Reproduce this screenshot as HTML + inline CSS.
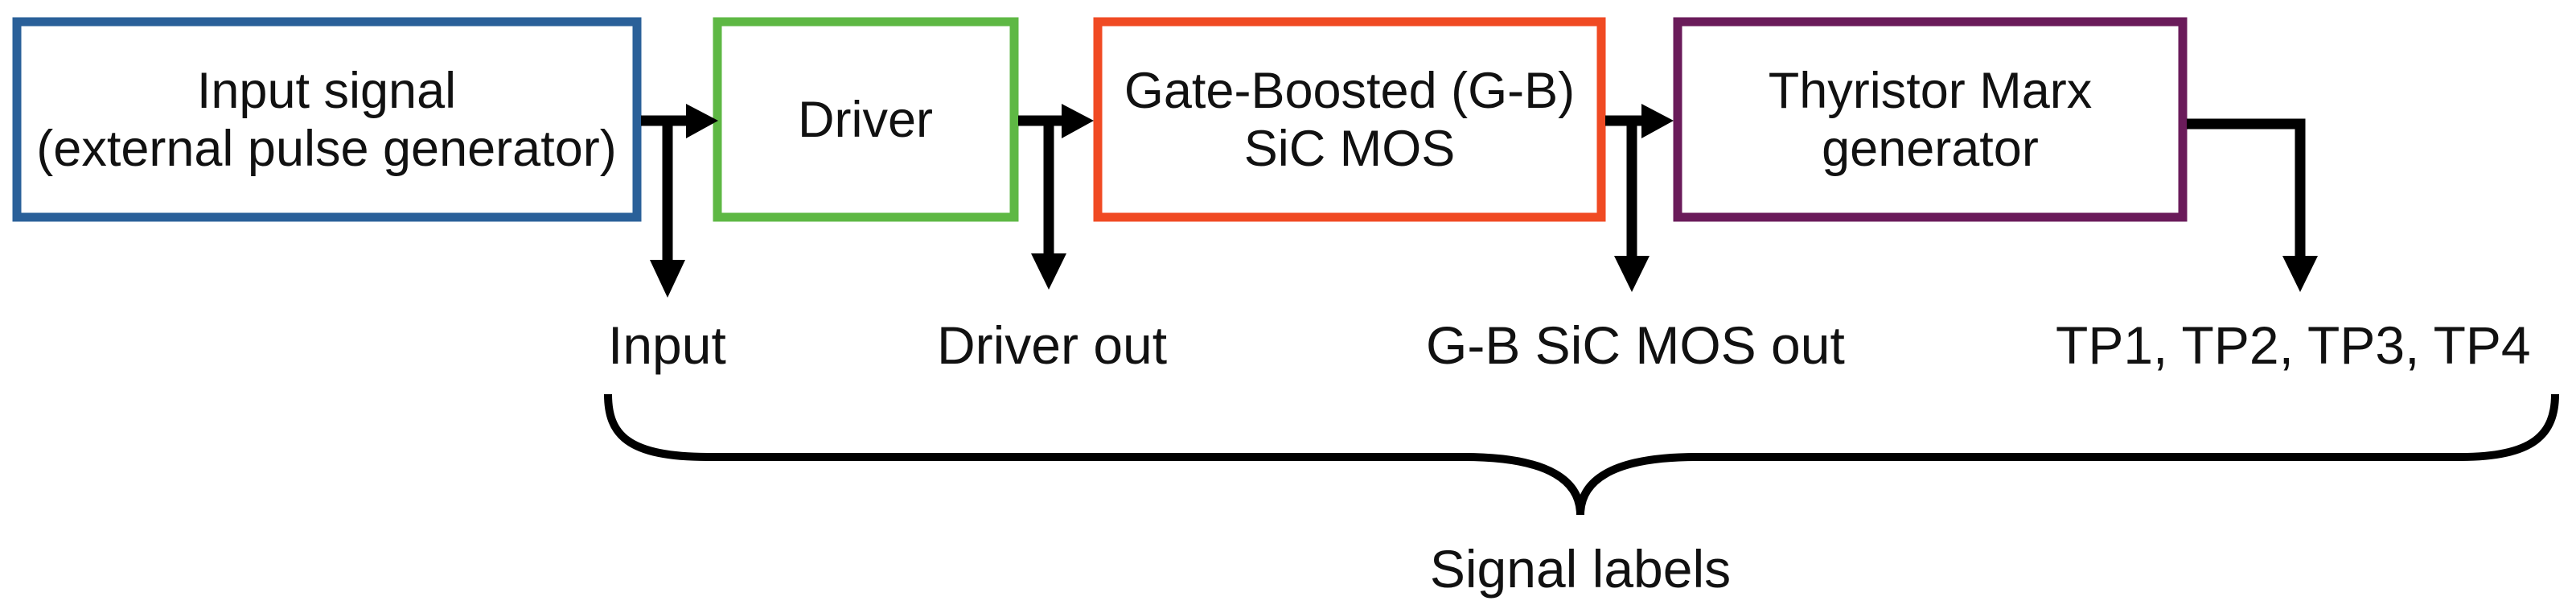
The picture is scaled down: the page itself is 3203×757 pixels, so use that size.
<!DOCTYPE html>
<html><head><meta charset="utf-8"><style>
html,body{margin:0;padding:0;background:#fff;width:3203px;height:757px;overflow:hidden}
svg text{font-family:"Liberation Sans",Arial,sans-serif;fill:#111}
</style></head><body>
<svg width="3203" height="757" viewBox="0 0 3203 757" xmlns="http://www.w3.org/2000/svg">
<rect x="21" y="27" width="771" height="243" fill="none" stroke="#2a6099" stroke-width="11"/>
<rect x="892" y="27" width="369" height="243" fill="none" stroke="#5eb844" stroke-width="11"/>
<rect x="1365" y="27" width="626" height="243" fill="none" stroke="#f04a23" stroke-width="11"/>
<rect x="2086" y="27" width="628" height="243" fill="none" stroke="#6a1b5a" stroke-width="11"/>
<g font-size="63" text-anchor="middle">
<text x="406" y="134">Input signal</text>
<text x="406" y="206">(external pulse generator)</text>
<text x="1076" y="170">Driver</text>
<text x="1678" y="134">Gate-Boosted (G-B)</text>
<text x="1678" y="206">SiC MOS</text>
<text x="2400" y="134">Thyristor Marx</text>
<text x="2400" y="206">generator</text>
</g>
<g stroke="#000" stroke-width="13" fill="none">
<line x1="797" y1="150" x2="856" y2="150"/>
<line x1="830" y1="150" x2="830" y2="325"/>
<line x1="1266" y1="150" x2="1322" y2="150"/>
<line x1="1304" y1="150" x2="1304" y2="318"/>
<line x1="1996" y1="150" x2="2044" y2="150"/>
<line x1="2029" y1="150" x2="2029" y2="318"/>
<polyline points="2719,154 2860,154 2860,318"/>
</g>
<g fill="#000">
<polygon points="853,129 893,150 853,172"/>
<polygon points="808,323 852,323 830,370"/>
<polygon points="1320,129 1360,150 1320,172"/>
<polygon points="1282,315 1326,315 1304,360"/>
<polygon points="2041,129 2081,150 2041,172"/>
<polygon points="2007,318 2051,318 2029,363"/>
<polygon points="2838,318 2882,318 2860,363"/>
</g>
<g font-size="66">
<text x="756" y="452">Input</text>
<text x="1165" y="452">Driver out</text>
<text x="1773" y="452">G-B SiC MOS out</text>
<text x="2556" y="452">TP1, TP2, TP3, TP4</text>
</g>
<path d="M756,490 C756,540 780,568 880,568 L1820,568 C1930,568 1965,600 1965,640 C1965,600 2000,568 2110,568 L3060,568 C3150,568 3177,540 3177,490" fill="none" stroke="#000" stroke-width="10"/>
<text x="1965" y="730" font-size="66" text-anchor="middle">Signal labels</text>
</svg>
</body></html>
